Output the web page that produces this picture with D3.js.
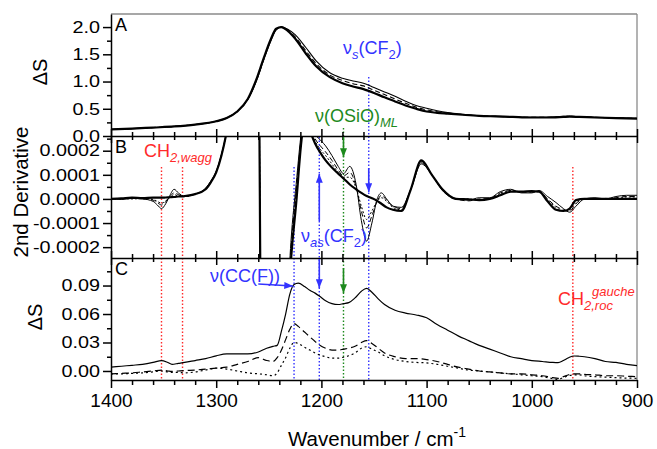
<!DOCTYPE html>
<html>
<head>
<meta charset="utf-8">
<script src="https://cdn.jsdelivr.net/npm/d3@7"></script>
<style>
body { margin: 0; background: #fff; }
svg { display: block; font-family: "Liberation Sans", Arial, Helvetica, sans-serif; }
</style>
</head>
<body>
<div id="chart"></div>
<script>
// ---- data ----
// panel A: reflectance change
const aWave = [1400,1380,1360,1340,1320,1300,1290,1280,1270,1262,1255,1248,1243,1238,1232,1225,1215,1205,1192,1180,1170,1160,1150,1140,1130,1120,1110,1100,1090,1080,1066,1050,1034,1018,1002,985,970,964,955,940,920,900]
const aThick = [0.12,0.135,0.155,0.175,0.21,0.27,0.33,0.45,0.68,1.03,1.42,1.78,1.97,2.0,1.93,1.79,1.52,1.28,1.08,0.97,0.91,0.86,0.79,0.71,0.635,0.56,0.50,0.45,0.425,0.41,0.39,0.37,0.36,0.35,0.34,0.34,0.35,0.355,0.35,0.34,0.33,0.32]
const aDash = [0.12,0.135,0.155,0.175,0.21,0.27,0.33,0.45,0.675,1.01,1.40,1.77,1.96,2.0,1.95,1.82,1.57,1.33,1.12,1.02,0.96,0.92,0.84,0.76,0.68,0.60,0.53,0.48,0.445,0.42,0.395,0.372,0.36,0.35,0.342,0.342,0.355,0.36,0.352,0.342,0.332,0.322]
const aThin = [0.12,0.135,0.155,0.175,0.21,0.27,0.33,0.45,0.67,1.0,1.39,1.75,1.95,2.0,1.96,1.86,1.63,1.38,1.16,1.06,1.01,0.97,0.89,0.81,0.73,0.64,0.56,0.51,0.465,0.43,0.40,0.375,0.36,0.35,0.345,0.345,0.36,0.365,0.355,0.345,0.335,0.325]

// panel B: 2nd derivative, in units of 1e-4
const bWave = [1400,1390,1380,1370,1360,1356,1352,1348,1344,1340,1336,1330,1320,1310,1305,1300,1295,1290,1280,1270,1262,1261,1256,1245,1235,1229,1224,1219,1215,1212,1206,1200,1196,1190,1184,1179,1173,1167,1162,1157,1152,1147,1143,1138,1132,1124,1115,1105,1095,1085,1072,1060,1050,1040,1030,1020,1010,1000,993,985,977,970,964,958,950,940,930,920,910,900]
const bThick = [0.0,0.02,0.05,0.03,0.05,0.05,0.05,0.06,0.07,0.08, 0.1,0.12,0.2,0.4,0.7,1.1,1.8,2.8,6,10, 12,12,-12,-12,-8,-2.6,-0.2,2.4,3.5,3.0, 2.3,1.85,1.6,1.3,1.05,0.85,0.6,0.4,0.25,0.12, 0.03,-0.08,-0.2,-0.35,-0.45,-0.5,0.4,1.6,1.0,0.4, 0.0,-0.02,-0.05,0.0,0.15,0.3,0.3,0.32,0.3,-0.1, -0.45,-0.5,-0.4,-0.05,0,0,0,0,0,0]
const bThin = [0.0,-0.02,0.02,0.0,-0.1,-0.25,-0.4,-0.2,0.15,0.4, 0.25,0.1,0.2,0.45,0.75,1.15,1.85,2.8,6,10, 12,12,-12,-12,-7,-1.8,0.6,2.8,3.8,3.4, 2.7,2.4,2.2,1.8,1.35,1.05,1.35,0.6,-0.9,-1.75, -1.0,0.0,0.25,0.0,-0.3,-0.35,0.4,1.45,1.0,0.35, 0.0,-0.05,0.05,0.05,0.3,0.4,0.25,0.25,0.35,0.1, -0.15,-0.4,-0.55,-0.3,0.0,0.05,0.0,0.1,0.15,0.15]
const bDash = [0.01,0.0,0.03,0.01,-0.05,-0.15,-0.25,-0.12,0.1,0.25, 0.18,0.1,0.2,0.42,0.72,1.12,1.82,2.8,6,10, 12,12,-12,-12,-7.5,-2.2,0.3,2.6,3.7,3.2, 2.5,2.15,1.95,1.6,1.2,0.95,1.1,0.5,-0.5,-1.2, -0.7,-0.1,0.15,-0.05,-0.3,-0.4,0.4,1.5,1.0,0.38, 0.0,-0.08,0.0,0.02,0.25,0.35,0.28,0.28,0.32,0.0, -0.3,-0.45,-0.5,-0.2,0.0,0.02,0.0,0.05,0.1,0.1]
const bDot = [0.0,0.02,0.0,0.02,-0.02,-0.1,-0.18,-0.08,0.06,0.18, 0.12,0.1,0.2,0.42,0.72,1.12,1.82,2.8,6,10, 12,12,-12,-12,-7.8,-2.4,0.1,2.5,3.6,3.1, 2.4,2.0,1.8,1.45,1.1,0.9,0.9,0.45,-0.3,-0.85, -0.5,-0.1,0.05,-0.1,-0.35,-0.45,0.4,1.55,1.0,0.4, -0.02,0.0,-0.05,0.0,0.2,0.35,0.3,0.3,0.3,-0.05, -0.35,-0.5,-0.45,-0.15,0.0,0.0,0.02,0.0,0.08,0.08]

// panel C: difference spectra
const cWave = [1400,1390,1380,1370,1360,1352,1346,1342,1336,1330,1320,1310,1300,1290,1280,1270,1260,1252,1246,1242,1238,1234,1230,1226,1222,1216,1211,1206,1202,1196,1190,1184,1179,1174,1168,1162,1157,1152,1146,1140,1130,1120,1110,1100,1090,1080,1070,1060,1050,1040,1030,1020,1010,1000,990,980,975,970,965,960,955,950,940,930,920,910,900]
const cSolid = [0.004,0.005,0.006,0.007,0.009,0.011,0.009,0.007,0.008,0.009, 0.011,0.013,0.016,0.018,0.018,0.018,0.020,0.024,0.026,0.027, 0.042,0.060,0.081,0.091,0.0925,0.089,0.085,0.082,0.079,0.074, 0.071,0.070,0.071,0.072,0.077,0.084,0.087,0.083,0.076,0.070, 0.064,0.061,0.059,0.056,0.049,0.043,0.037,0.032,0.027,0.023, 0.019,0.015,0.013,0.011,0.010,0.009,0.0088,0.011,0.014,0.0158, 0.0155,0.015,0.013,0.010,0.009,0.007,0.0056]
const cDash = [-0.003,-0.0025,-0.002,-0.001,0.0,0.001,0.0,-0.0005,0.0,0.0005, 0.001,0.002,0.003,0.004,0.007,0.010,0.014,0.011,0.010,0.014, 0.022,0.033,0.044,0.050,0.047,0.041,0.036,0.031,0.0275,0.024, 0.022,0.022,0.023,0.024,0.026,0.030,0.032,0.029,0.024,0.019, 0.015,0.013,0.013,0.012,0.010,0.007,0.004,0.002,0.0,-0.001, -0.002,-0.003,-0.003,-0.004,-0.005,-0.007,-0.0077,-0.006,-0.004,-0.003, -0.003,-0.0035,-0.004,-0.005,-0.005,-0.0055,-0.006]
const cDot = [-0.003,-0.003,-0.0025,-0.002,-0.001,0.0,-0.001,-0.0015,-0.0015,-0.002, -0.001,0.001,0.003,0.002,0.0,-0.002,-0.003,-0.004,-0.005,-0.002, 0.006,0.014,0.024,0.030,0.029,0.025,0.022,0.019,0.017,0.015, 0.0135,0.0135,0.0145,0.016,0.019,0.024,0.0255,0.023,0.020,0.016, 0.012,0.010,0.009,0.0085,0.007,0.005,0.003,0.001,0.0,-0.001, -0.002,-0.003,-0.004,-0.005,-0.006,-0.008,-0.0088,-0.007,-0.005,-0.0042, -0.004,-0.005,-0.006,-0.0065,-0.007,-0.0075,-0.0077]

const xMajor = [1400,1300,1200,1100,1000,900]

// band positions (cm-1)
const RED = "#ff2b2b", BLUE = "#3333ff", GREEN = "#1d8a1d"
const bandLines = [
    {wn: 1352, color: RED, y0: 167, y1: 380},
    {wn: 1332, color: RED, y0: 167, y1: 380},
    {wn: 961, color: RED, y0: 167, y1: 380},
    {wn: 1226, color: BLUE, y0: 167, y1: 380},
    {wn: 1202, color: BLUE, y0: 137, y1: 380},
    {wn: 1179, color: GREEN, y0: 128, y1: 380},
    {wn: 1155, color: BLUE, y0: 77, y1: 380}
]
const bandArrows = [
    {wn: 1202, color: BLUE, y0: 221, y1: 174},
    {wn: 1202, color: BLUE, y0: 259, y1: 288},
    {wn: 1179, color: GREEN, y0: 137, y1: 157},
    {wn: 1179, color: GREEN, y0: 268, y1: 293},
    {wn: 1155, color: BLUE, y0: 168, y1: 192}
]

// ---- layout ----
const left = 111, right = 637
const yLabelStretch = 1.2

const svg = d3.select("#chart").append("svg")
    .attr("width", 657)
    .attr("height", 449)

const x = d3.scaleLinear().domain([1400, 900]).range([left, right])

const panels = [
    {key: "A", top: 14, bottom: 136, domain: [0, 2.24],
     major: [0, 0.5, 1, 1.5, 2], minor: [0.25, 0.75, 1.25, 1.75], fmt: d3.format(".1f"),
     wave: aWave,
     series: [
        {v: aThin, w: 1.1, dash: null},
        {v: aDash, w: 1.1, dash: "5,3"},
        {v: aThick, w: 2.2, dash: null}
     ]},
    {key: "B", top: 136, bottom: 258, domain: [-2.45, 2.61],
     major: [-2, -1, 0, 1, 2], minor: [-1.5, -0.5, 0.5, 1.5, 2.5], fmt: d => (d * 1e-4).toFixed(4),
     wave: bWave,
     series: [
        {v: bThin, w: 1, dash: null},
        {v: bDash, w: 1, dash: "5,3"},
        {v: bDot, w: 1, dash: "2,2"},
        {v: bThick, w: 2.2, dash: null}
     ]},
    {key: "C", top: 258, bottom: 380, domain: [-0.0095, 0.119],
     major: [0, 0.03, 0.06, 0.09], minor: [0.015, 0.045, 0.075, 0.105], fmt: d3.format(".2f"),
     wave: cWave,
     series: [
        {v: cDot, w: 1.2, dash: "2,3"},
        {v: cDash, w: 1.2, dash: "7,4"},
        {v: cSolid, w: 1.2, dash: null}
     ]}
]

const defs = svg.append("defs")
;[["red", RED], ["blue", BLUE], ["green", GREEN]].forEach(([n, c]) => {
    defs.append("marker")
        .attr("id", "head-" + n)
        .attr("viewBox", "0 0 10 8")
        .attr("refX", 10).attr("refY", 4)
        .attr("markerUnits", "userSpaceOnUse")
        .attr("markerWidth", 10).attr("markerHeight", 7)
        .attr("orient", "auto")
      .append("path")
        .attr("d", "M0,0 L10,4 L0,8 Z")
        .attr("fill", c)
})
const headOf = c => c === RED ? "url(#head-red)" : c === GREEN ? "url(#head-green)" : "url(#head-blue)"

// frame (top and right, grey)
svg.append("line").attr("x1", left).attr("x2", right).attr("y1", 14).attr("y2", 14)
    .attr("stroke", "#8a8a8a").attr("stroke-width", 1.3)
svg.append("line").attr("x1", right).attr("x2", right).attr("y1", 14).attr("y2", 380)
    .attr("stroke", "#8a8a8a").attr("stroke-width", 1.3)

// band marker lines behind the spectra
const bands = svg.append("g")
bands.selectAll("line")
    .data(bandLines)
    .join("line")
        .attr("x1", d => x(d.wn)).attr("x2", d => x(d.wn))
        .attr("y1", d => d.y0).attr("y2", d => d.y1)
        .attr("stroke", d => d.color)
        .attr("stroke-width", 1.4)
        .attr("stroke-dasharray", "1.6,1.9")

panels.forEach(p => {
    const y = d3.scaleLinear().domain(p.domain).range([p.bottom, p.top])
    p.y = y

    defs.append("clipPath").attr("id", "clip-" + p.key)
      .append("rect")
        .attr("x", left).attr("y", p.top)
        .attr("width", right - left).attr("height", p.bottom - p.top)

    const line = d3.line()
        .x(d => x(d[0]))
        .y(d => y(d[1]))
        .curve(d3.curveMonotoneX)

    svg.append("g")
        .attr("clip-path", `url(#clip-${p.key})`)
      .selectAll("path")
      .data(p.series)
      .join("path")
        .attr("d", s => line(p.wave.map((w, i) => [w, s.v[i]])))
        .attr("fill", "none")
        .attr("stroke", "#000")
        .attr("stroke-width", s => s.w)
        .attr("stroke-dasharray", s => s.dash)
        .attr("stroke-linejoin", "round")

    // y axis
    const yg = svg.append("g").attr("class", "axis").attr("transform", `translate(${left},0)`)
    yg.call(d3.axisLeft(y).tickValues(p.major).tickFormat(p.fmt)
        .tickSizeInner(8).tickSizeOuter(0).tickPadding(3))
    yg.selectAll(".tick text")
        .attr("font-size", 16.5)
        .attr("x", -11 / yLabelStretch)
        .attr("transform", `scale(${yLabelStretch},1)`)
    yg.append("g").call(d3.axisLeft(y).tickValues(p.minor).tickFormat("").tickSize(4))
        .call(g => g.select(".domain").remove())

    // x axis at panel bottom
    const xg = svg.append("g").attr("class", "axis").attr("transform", `translate(0,${p.bottom})`)
    const minorTicks = d3.range(900, 1401, 20).filter(v => !xMajor.includes(v))
    if (p.key === "C") {
        xg.call(d3.axisBottom(x).tickValues(xMajor).tickFormat(d3.format("d"))
            .tickSizeInner(8).tickSizeOuter(0).tickPadding(6))
        xg.selectAll(".tick text").attr("font-size", 19)
        xg.append("g").call(d3.axisBottom(x).tickValues(minorTicks).tickFormat("").tickSize(5))
            .call(g => g.select(".domain").remove())
    } else {
        xg.call(d3.axisBottom(x).tickValues(xMajor).tickFormat("").tickSizeInner(7).tickSizeOuter(0))
        xg.append("g").call(d3.axisTop(x).tickValues(xMajor).tickFormat("").tickSize(7))
            .call(g => g.select(".domain").remove())
        xg.append("g").call(d3.axisBottom(x).tickValues(minorTicks).tickFormat("").tickSize(4))
            .call(g => g.select(".domain").remove())
        xg.append("g").call(d3.axisTop(x).tickValues(minorTicks).tickFormat("").tickSize(4))
            .call(g => g.select(".domain").remove())
    }

    svg.append("text")
        .attr("x", 115).attr("y", p.top + 17)
        .attr("font-size", 18)
        .text(p.key)
})

svg.selectAll(".tick line, .domain").attr("stroke-width", 1.5)
svg.selectAll(".tick text").attr("fill", "#000")
svg.selectAll("g[font-family]").attr("font-family", null)

// arrows
svg.append("g").selectAll("line")
    .data(bandArrows)
    .join("line")
        .attr("x1", d => x(d.wn)).attr("x2", d => x(d.wn))
        .attr("y1", d => d.y0).attr("y2", d => d.y1)
        .attr("stroke", d => d.color)
        .attr("stroke-width", 1.6)
        .attr("marker-end", d => headOf(d.color))

svg.append("line")
    .attr("x1", x(1260)).attr("y1", 284)
    .attr("x2", x(1227)).attr("y2", 286)
    .attr("stroke", BLUE).attr("stroke-width", 1.6)
    .attr("marker-end", headOf(BLUE))

// rich labels with sub / superscripts
function label(px, py, color, parts, size = 18) {
    const t = svg.append("text").attr("x", px).attr("y", py)
        .attr("fill", color).attr("font-size", size)
    let shift = 0
    parts.forEach(pt => {
        const target = pt.sub ? 5 : pt.sup ? -9 : 0
        const ts = t.append("tspan")
            .attr("dy", target - shift)
            .attr("font-size", pt.sub || pt.sup ? 13 : size)
            .attr("font-style", pt.it ? "italic" : null)
            .text(pt.t)
        if (pt.x != null) ts.attr("x", pt.x)
        shift = target
    })
}

label(343, 54, BLUE, [{t: "ν"}, {t: "s", sub: true, it: true}, {t: "(CF"}, {t: "2", sub: true}, {t: ")"}])
label(315, 122, GREEN, [{t: "ν(OSiO)"}, {t: "ML", sub: true, it: true}])
label(144, 157, RED, [{t: "CH"}, {t: "2,wagg", sub: true, it: true}])
label(301, 242, BLUE, [{t: "ν"}, {t: "as", sub: true, it: true}, {t: "(CF"}, {t: "2", sub: true}, {t: ")"}])
label(210, 282, BLUE, [{t: "ν(CC(F))"}])
label(558, 305, RED, [{t: "CH"}, {t: "2,roc", sub: true, it: true}, {t: "gauche", sup: true, it: true, x: 592}])

// axis titles
svg.append("text").attr("transform", "translate(47,72) rotate(-90)")
    .attr("text-anchor", "middle").attr("font-size", 20).text("ΔS")
svg.append("text").attr("transform", "translate(28,192) rotate(-90)")
    .attr("text-anchor", "middle").attr("font-size", 20.5).text("2nd Derivative")
svg.append("text").attr("transform", "translate(42,317) rotate(-90)")
    .attr("text-anchor", "middle").attr("font-size", 20).text("ΔS")

const xt = svg.append("text").attr("x", 288).attr("y", 446).attr("font-size", 20.5)
xt.append("tspan").text("Wavenumber / cm")
xt.append("tspan").attr("dy", -9).attr("font-size", 14).text("-1")
</script>
</body>
</html>
